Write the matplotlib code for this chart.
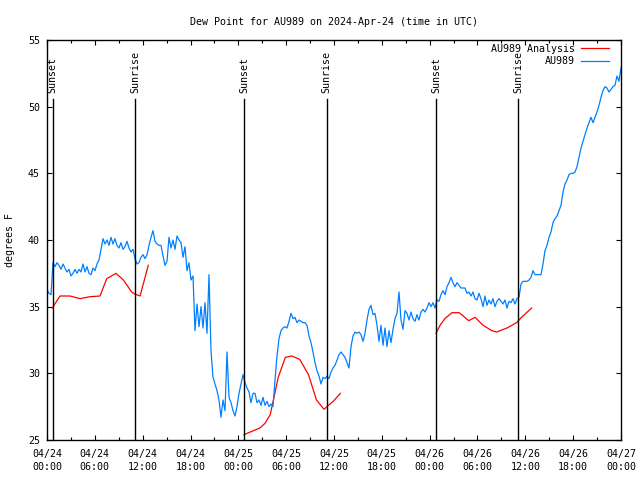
import numpy as np
import matplotlib
matplotlib.use("Agg")
import matplotlib.pyplot as plt

plt.rcParams['font.family'] = ['DejaVu Sans Mono']
plt.rcParams['font.size'] = 7.2

# observed dew point (deg F), evenly spaced over 04/24 00:00 .. 04/27 00:00
dew = [
    36.3, 36.0, 35.9, 38.3, 38.0, 38.3, 38.1, 37.8, 38.2, 37.9, 37.6, 37.8,
    37.3, 37.5, 37.8, 37.5, 37.8, 37.6, 38.2, 37.6, 38.0, 37.5, 37.4, 37.9,
    37.7, 38.2, 38.5, 39.3, 40.1, 39.7, 40.0, 39.6, 40.2, 39.7, 40.1, 39.6,
    39.4, 39.8, 39.3, 39.5, 39.9, 39.4, 39.1, 39.3, 38.6, 38.2, 38.3, 38.7,
    38.9, 38.6, 38.9, 39.6, 40.2, 40.7, 39.9, 39.7, 39.6, 39.6, 38.8, 38.1,
    38.4, 40.2, 39.4, 40.0, 39.3, 40.3, 40.0, 39.8, 38.7, 39.5, 37.7, 38.3,
    37.0, 37.3, 33.2, 35.2, 33.5, 35.0, 33.4, 35.3, 33.0, 37.4, 31.7, 29.7,
    29.2, 28.7, 28.0, 26.7, 28.0, 27.2, 31.6, 28.2, 27.8, 27.2, 26.8, 27.5,
    28.5, 29.2, 29.9, 29.3, 28.9, 28.6, 27.8, 28.5, 28.5, 27.8, 28.0, 27.6,
    28.2, 27.6, 27.9, 27.5, 27.7, 27.5, 29.5, 31.3, 32.6, 33.2, 33.4, 33.5,
    33.4, 33.9, 34.5, 34.1, 34.2, 33.8, 34.0, 33.9, 33.8, 33.8, 33.6, 32.8,
    32.3, 31.6, 30.8, 30.2, 29.8, 29.2, 29.7, 29.6, 29.8, 29.6, 30.1, 30.4,
    30.6, 31.0, 31.4, 31.6, 31.4, 31.2, 30.8, 30.4, 32.0, 32.8, 33.1, 33.0,
    33.1, 32.9, 32.4, 33.0, 34.0, 34.8, 35.1, 34.4, 34.5, 33.6, 32.4, 33.6,
    32.1, 33.4, 32.0, 33.2, 32.3, 33.3, 34.1, 34.5, 36.1, 34.0, 33.3, 34.7,
    34.5, 34.0, 34.6, 34.1, 33.9, 34.4, 34.0, 34.6, 34.8, 34.6, 34.9, 35.3,
    35.0, 35.3, 34.9, 35.5, 35.4, 35.9, 36.2, 35.9, 36.5, 36.8, 37.2, 36.8,
    36.5, 36.8, 36.6, 36.4, 36.4, 36.4, 36.0, 36.1, 35.8, 36.1, 35.6, 35.5,
    36.0, 35.6, 35.0, 35.8, 35.1, 35.5, 35.2, 35.6, 35.0, 35.4, 35.6, 35.4,
    35.2, 35.5, 34.9, 35.4, 35.3, 35.6, 35.2, 35.6, 35.7, 36.7, 36.9, 36.9,
    36.9, 37.0, 37.2, 37.7, 37.4, 37.4, 37.4, 37.4, 38.2, 39.2, 39.6, 40.2,
    40.6, 41.3, 41.6, 41.8, 42.2, 42.6, 43.6, 44.2, 44.5, 44.9, 45.0, 45.0,
    45.1, 45.5, 46.2, 46.9, 47.4, 47.9, 48.4, 48.8, 49.2, 48.8, 49.2, 49.6,
    50.1, 50.7, 51.2, 51.5, 51.4, 51.1, 51.3, 51.5, 51.6, 52.3, 51.9, 52.9,
]
dew_hours = np.linspace(0, 72, len(dew))

# analysis (hours since 04/24 00:00), nan = gap
ana_hours = [0.66, 1.63, 2.89, 4.14, 5.40, 6.65, 7.49, 8.66, 9.58, 10.62, 11.0, 11.67, 12.1, 12.7,
             np.nan,
             24.7, 25.5, 26.7, 27.35, 28.0, 28.4, 29.0, 29.9, 30.7, 31.7, 32.8, 33.8, 34.75, 35.3, 35.9, 36.8,
             np.nan,
             48.8, 49.3, 49.9, 50.8, 51.7, 52.9, 53.7, 54.7, 55.8, 56.4, 57.7, 58.9, 59.6, 60.8]
ana_vals = [34.9, 35.8, 35.8, 35.6, 35.75, 35.8, 37.1, 37.5, 37.0, 36.1, 35.95, 35.8, 36.75, 38.1,
            np.nan,
            25.4, 25.6, 25.9, 26.25, 26.9, 28.0, 29.7, 31.2, 31.3, 31.05, 29.9, 28.0, 27.3, 27.6, 27.9, 28.5,
            np.nan,
            33.0, 33.6, 34.1, 34.55, 34.55, 33.95, 34.2, 33.6, 33.2, 33.1, 33.4, 33.8, 34.25, 34.9]

sun_hours = [0.7, 11.05, 24.7, 35.1, 48.8, 59.1]
sun_labels = ["Sunset", "Sunrise", "Sunset", "Sunrise", "Sunset", "Sunrise"]

tick_hours = list(range(0, 73, 6))
tick_labels = ["04/24\n00:00", "04/24\n06:00", "04/24\n12:00", "04/24\n18:00",
               "04/25\n00:00", "04/25\n06:00", "04/25\n12:00", "04/25\n18:00",
               "04/26\n00:00", "04/26\n06:00", "04/26\n12:00", "04/26\n18:00",
               "04/27\n00:00"]

fig = plt.figure(figsize=(6.4, 4.8), dpi=100)
ax = fig.add_axes([47/640, 40/480, 574/640, 400/480])

ax.plot(ana_hours, ana_vals, color='#ff0000', lw=0.9, label='AU989 Analysis')
ax.plot(dew_hours, dew, color='#0080ff', lw=0.9, label='AU989')

# sunrise / sunset markers
for h, lab in zip(sun_hours, sun_labels):
    ax.plot([h, h], [25, 50.55], color='black', lw=1.0)
    ax.text(h, 51.05, lab, rotation=90, ha='center', va='bottom')

ax.set_xlim(0, 72)
ax.set_ylim(25, 55)
ax.set_xticks(tick_hours)
ax.set_xticklabels(tick_labels, linespacing=1.4)
ax.set_xticks(range(0, 73, 3), minor=True)
ax.set_yticks(range(25, 56, 5))
ax.tick_params(which='both', direction='in', top=True, right=True, color='black')
ax.tick_params(which='major', length=3.5, width=0.8)
ax.tick_params(which='minor', length=2.5, width=0.8)
ax.tick_params(axis='x', pad=6.5)
ax.tick_params(axis='y', pad=5)
for s in ax.spines.values():
    s.set_linewidth(1.0)

ax.set_title("Dew Point for AU989 on 2024-Apr-24 (time in UTC)", fontsize=7.2, pad=11)
ax.set_ylabel("degrees F")
ax.yaxis.set_label_coords(-(47 - 15) / 574, 0.5)

ax.legend(loc='upper right', bbox_to_anchor=(1 - 12/574, 1 - 4/400),
          frameon=False, markerfirst=False, borderpad=0, borderaxespad=0,
          handlelength=2.8, handletextpad=0.6, labelspacing=0.25)

fig.savefig('out.png', dpi=100)
